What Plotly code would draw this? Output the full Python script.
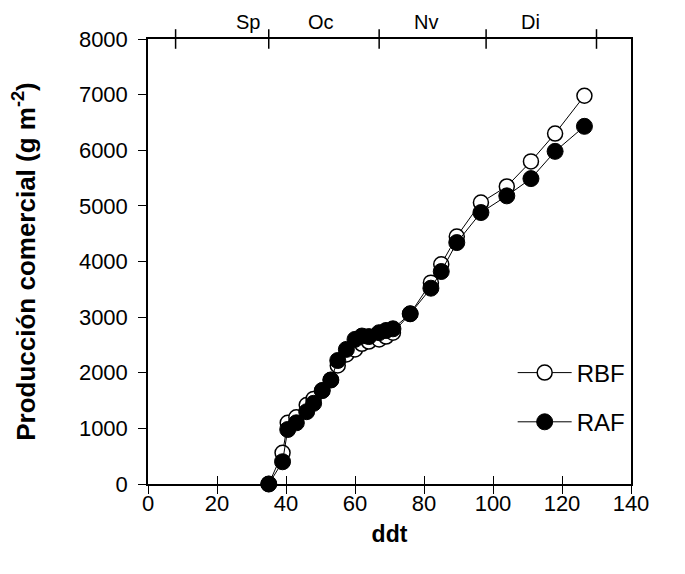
import plotly.graph_objects as go

# Data
ddt = [35, 39, 40.5, 43, 46, 48, 50.5, 53, 55, 57.5, 60, 62, 64, 67, 69, 71,
       76, 82, 85, 89.5, 96.5, 104, 111, 118, 126.5]
rbf = [0, 560, 1100, 1200, 1420, 1530, 1680, 1870, 2130, 2330, 2420, 2520, 2560,
       2600, 2650, 2720, 3060, 3620, 3950, 4450, 5060, 5350, 5800, 6300, 6980]
raf = [0, 400, 980, 1100, 1300, 1450, 1680, 1870, 2220, 2420, 2600, 2660, 2650,
       2720, 2760, 2790, 3060, 3520, 3820, 4340, 4880, 5180, 5490, 5980, 6430]

month_bounds = [8, 35, 67, 98, 130]
month_label_pos = [29, 50, 80.5, 111]
month_labels = ["Sp", "Oc", "Nv", "Di"]

x_ticks = [0, 20, 40, 60, 80, 100, 120, 140]
y_ticks = [0, 1000, 2000, 3000, 4000, 5000, 6000, 7000, 8000]

FONT = "Arial, 'Liberation Sans', sans-serif"

fig = go.Figure()

fig.add_trace(go.Scatter(
    x=ddt, y=rbf, name="RBF", mode="lines+markers",
    line=dict(color="black", width=1),
    marker=dict(symbol="circle", size=15, color="white",
                line=dict(color="black", width=1.5)),
    legendgroup="a", cliponaxis=False))

fig.add_trace(go.Scatter(
    x=ddt, y=raf, name="RAF", mode="lines+markers",
    line=dict(color="black", width=1),
    marker=dict(symbol="circle", size=16, color="black",
                line=dict(color="black", width=1)),
    legendgroup="b", cliponaxis=False))

# month boundary "+" ticks on the top line
fig.add_trace(go.Scatter(
    x=month_bounds, y=[8000] * len(month_bounds), mode="markers",
    marker=dict(symbol="line-ns", size=14, line=dict(color="black", width=1.5)),
    showlegend=False, hoverinfo="skip", cliponaxis=False))

# helper trace for inside-ticks axis
fig.add_trace(go.Scatter(
    x=x_ticks, y=[0] * len(x_ticks), xaxis="x2", mode="markers",
    marker=dict(opacity=0), showlegend=False, hoverinfo="skip"))

# month labels above the top frame line
for xp, lab in zip(month_label_pos, month_labels):
    fig.add_annotation(x=xp, y=8000, xref="x", yref="y", text=lab,
                       showarrow=False, yanchor="bottom", yshift=4,
                       font=dict(family=FONT, size=20, color="black"))

fig.update_layout(
    width=685, height=574,
    margin=dict(l=140, r=62, t=31, b=98),
    paper_bgcolor="white", plot_bgcolor="white",
    font=dict(family=FONT, size=22, color="black"),
    showlegend=True,
    legend=dict(x=0.755, y=0.3, xanchor="left", yanchor="top",
                bgcolor="rgba(0,0,0,0)", font=dict(size=24),
                itemwidth=54,
                tracegroupgap=15, traceorder="grouped"),
    xaxis=dict(range=[0, 140], tickvals=x_ticks, ticks="outside", ticklen=8,
               tickwidth=1, tickcolor="black", showline=True, linecolor="black",
               linewidth=1.5, showgrid=False, zeroline=False, mirror=True,
               ticklabelstandoff=-9,
               title=dict(text="<b>ddt</b>", font=dict(size=23), standoff=11)),
    xaxis2=dict(range=[0, 140], tickvals=x_ticks, ticks="inside", ticklen=8,
                tickwidth=1, tickcolor="black", overlaying="x", side="bottom",
                anchor="y", showticklabels=False, showgrid=False, zeroline=False,
                showline=False),
    yaxis=dict(range=[0, 8000], tickvals=y_ticks, ticks="outside", ticklen=8,
               tickwidth=1, tickcolor="black", showline=True, linecolor="black",
               linewidth=1.5, showgrid=False, zeroline=False, mirror=True,
               ticklabelstandoff=6,
               title=dict(text="<b>Producción comercial (g m<sup>-2</sup>)</b>",
                          font=dict(size=26), standoff=38)),
)

fig.write_html("out.html")
